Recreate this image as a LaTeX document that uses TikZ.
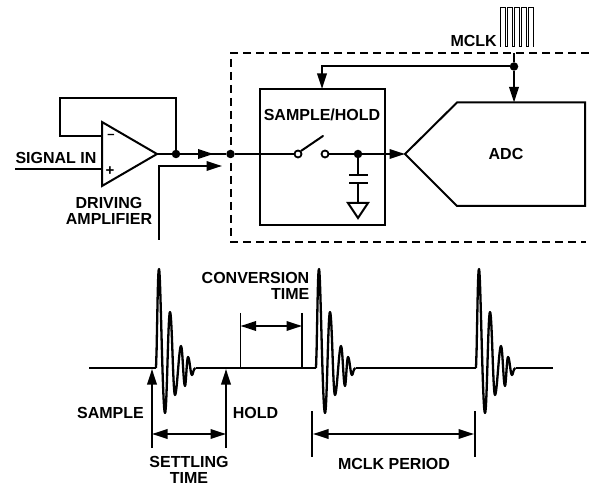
\documentclass[tikz,border=0pt]{standalone}
\usepackage{fontspec}
\setmainfont{Liberation Sans}
\usetikzlibrary{arrows.meta}
\tikzset{
  x=1pt,y=-1pt,
  wire/.style={line width=2pt,line cap=butt,line join=miter},
  dimwire/.style={line width=1.9pt,line cap=butt,line join=miter},
  thinwire/.style={line width=1pt,line join=miter},
  dashbox/.style={line width=2pt,dash pattern=on 8pt off 5pt},
  lbl/.style={font=\fontsize{16}{16}\selectfont\bfseries,inner sep=0pt,align=center,text=black},
  dot/.style={circle,fill=black,inner sep=0pt,minimum size=8.5pt},
  term/.style={circle,draw=black,fill=white,line width=1.8pt,inner sep=0pt,minimum size=7pt},
  onetip/.style={-{Triangle[length=15.5pt,width=9.5pt]}},
  bothtip/.style={{Triangle[length=15.5pt,width=9.5pt]}-{Triangle[length=15.5pt,width=9.5pt]}},
  wave/.style={line width=2.3pt,line join=round}
}
\newcommand{\wavepulse}[1]{%
  \draw[wave,shift={(#1,0)}] (156,368) -- (156.6,350)
    .. controls (157.6,300) and (158,269) .. (159,269)
    .. controls (160.6,269) and (162.5,413) .. (165,413)
    .. controls (167,413) and (168,312) .. (170,312)
    .. controls (172,312) and (173,395) .. (175,395)
    .. controls (177,395) and (179,346) .. (181,346)
    .. controls (182.6,346) and (183.4,386) .. (185,386)
    .. controls (186,386) and (186.8,357) .. (188,357)
    .. controls (189.6,357) and (190.4,375) .. (192,375)
    .. controls (193,375) and (193.4,368) .. (195.5,368);}
\begin{document}
\begin{tikzpicture}
\useasboundingbox (0,0) rectangle (589,486);
% dashed enclosure
\draw[dashbox] (589,53) -- (231,53) -- (231,242) -- (586,242);
% boxes
\coordinate (shNW) at (260,89);
\draw[wire] (shNW) rectangle (385,225);
\coordinate (shTop) at (322,89);
\coordinate (adcTip) at (405,154);
\coordinate (adcTop) at (514,102.5);
\draw[wire] (adcTip) -- (457,102.5) -- (585,102.5) -- (585,206) -- (457,206) -- cycle;
\node[lbl] (adc) at (506,154) {ADC};
\node[lbl] (sh) at (322,115) {SAMPLE/HOLD};
% op amp
\coordinate (ampOut) at (157,154);
\coordinate (ampMinus) at (102,136);
\coordinate (ampPlus) at (102,169.5);
\draw[wire] (102,122) -- (ampOut) -- (102,186) -- cycle;
\node[inner sep=0pt,font=\fontsize{13}{13}\selectfont\bfseries] (minus) at (111,136) {–};
\node[inner sep=0pt,font=\fontsize{15}{15}\selectfont\bfseries] (plus) at (110,171) {+};
\node[lbl] (sigin) at (56,157.5) {SIGNAL IN};
\node[lbl] (drv) at (109,211) {DRIVING\\AMPLIFIER};
\coordinate (sigStart) at (15,169.5);
\draw[wire] (sigStart) -- (ampPlus);
% junctions
\node[dot] (j1) at (176,154) {};
\node[dot] (j2) at (230.5,154) {};
\node[term] (s1) at (298,154) {};
\node[term] (s2) at (325,154) {};
\node[dot] (j3) at (358,154) {};
\node[dot] (j4) at (514,66.5) {};
% wires
\draw[wire] (ampMinus) -- (60,136) -- (60,98.5) -- (176,98.5) -- (j1.center);
\draw[wire] (ampOut) -- (j1);
\draw[wire,onetip] (j1) -- (213.5,154);
\draw[wire] (j1) -- (j2);
\draw[wire] (j2) -- (s1);
\draw[wire,line cap=round] (s1.north east) -- (323,136);
\draw[wire] (s2) -- (j3);
\draw[wire,onetip] (j3) -- (adcTip);
\coordinate (fbStart) at (159,240);
\draw[wire,onetip] (fbStart) -- (159,166) -- (222,166);
% capacitor and ground
\coordinate (capA) at (358,175.5);
\coordinate (capB) at (358,183);
\coordinate (gnd) at (358,203);
\draw[wire] (j3) -- (capA);
\draw[wire] (349,175.5) -- (368,175.5);
\draw[wire] (349,183) -- (368,183);
\draw[wire] (capB) -- (gnd);
\draw[wire] (348,203) -- (368,203) -- (358,218) -- cycle;
% mclk
\node[lbl,anchor=east] (mclk) at (497,41) {MCLK};
\coordinate (clkIn) at (514,53);
\draw[wire] (clkIn) -- (j4);
\draw[wire,onetip] (j4) -- (adcTop);
\draw[wire,onetip] (j4) -- (322,66.5) -- (shTop);
\draw[thinwire] (500.5,47) -- (500.5,8) -- (505,8) -- (505,47) -- (507.5,47) -- (507.5,8) -- (512,8) -- (512,47)
  -- (514.5,47) -- (514.5,8) -- (519,8) -- (519,47) -- (521.5,47) -- (521.5,8) -- (526,8) -- (526,47)
  -- (528.5,47) -- (528.5,8) -- (533,8) -- (533,47);
% waveform
\draw[wave] (89,368) -- (156,368);
\draw[wave] (195.5,368) -- (316,368);
\draw[wave] (355.5,368) -- (476,368);
\draw[wave] (515.5,368) -- (553,368);
\wavepulse{0}
\wavepulse{160}
\wavepulse{320}
% sample / hold arrows
\coordinate (sampleB) at (152,448);
\coordinate (sampleT) at (152,369);
\coordinate (holdB) at (226,448);
\coordinate (holdT) at (226,369);
\draw[dimwire,onetip] (sampleB) -- (sampleT);
\draw[dimwire,onetip] (holdB) -- (holdT);
\coordinate (setL) at (152,434);
\coordinate (setR) at (226,434);
\draw[dimwire,bothtip] (setL) -- (setR);
\node[lbl] (samplelbl) at (110.5,412.5) {SAMPLE};
\node[lbl] (holdlbl) at (255.5,412.5) {HOLD};
\node[lbl] (settling) at (189,469.5) {SETTLING\\TIME};
% conversion time
\coordinate (cA) at (240.5,313);
\coordinate (cB) at (302,313);
\draw[dimwire] (cA) -- (240.5,368);
\draw[dimwire] (cB) -- (302,368);
\draw[dimwire,bothtip] (240.5,326) -- (302,326);
\node[lbl,align=right,anchor=east] (conv) at (309.5,286) {CONVERSION\\TIME};
% mclk period
\coordinate (pA) at (312,411);
\coordinate (pB) at (475,411);
\draw[dimwire] (pA) -- (312,457);
\draw[dimwire] (pB) -- (475,457);
\draw[dimwire,bothtip] (313,434) -- (474,434);
\node[lbl] (period) at (394,463.5) {MCLK PERIOD};
\end{tikzpicture}
\end{document}
